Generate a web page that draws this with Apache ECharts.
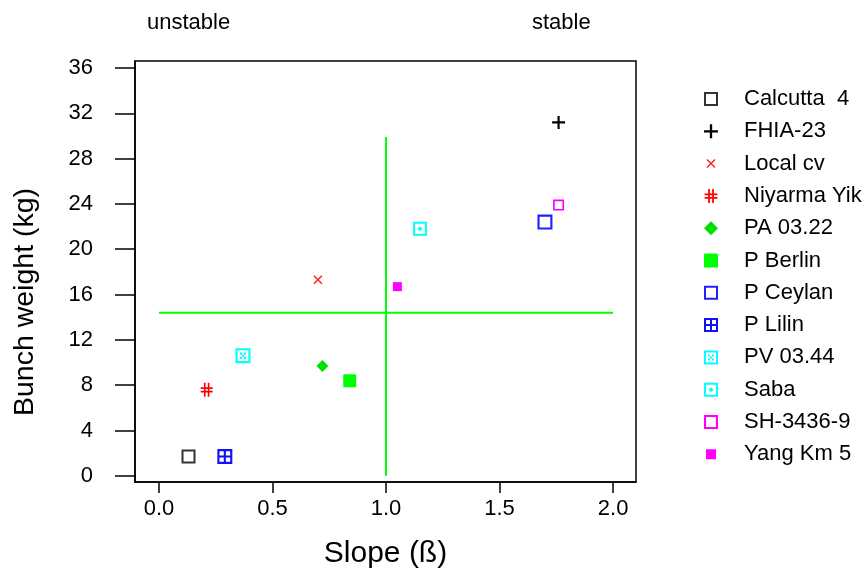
<!DOCTYPE html>
<html>
<head>
<meta charset="utf-8">
<script src="https://cdn.jsdelivr.net/npm/echarts@6/dist/echarts.min.js"></script>
<style>html,body{margin:0;padding:0;background:#fff}#c{width:868px;height:574px}</style>
</head>
<body>
<div id="c"></div>
<script>
// ---- data ----
const names = ['Calcutta  4','FHIA-23','Local cv','Niyarma Yik','PA 03.22','P Berlin','P Ceylan','P Lilin','PV 03.44','Saba','SH-3436-9','Yang Km 5'];
const slope  = [0.13, 1.76, 0.70, 0.21, 0.72, 0.84, 1.70, 0.29, 0.37, 1.15, 1.76, 1.05];
const weight = [1.7, 31.2, 17.3, 7.6, 9.7, 8.4, 22.4, 1.7, 10.6, 21.8, 23.9, 16.7];
const xTicks = [0, 0.5, 1.0, 1.5, 2.0];
const yTicks = [0, 4, 8, 12, 16, 20, 24, 28, 32, 36];
const hRefX = [0, 2];      // horizontal reference line span
const hRefY = 14.4;        // mean bunch weight
const vRefX = 1.0;         // slope = 1
const vRefY = [0, 29.9];   // vertical reference line span

// ---- styling ----
const FONT = 'Liberation Sans, Arial, sans-serif';
const ring = 'M0,0H14V14H0Z M2,2V12H12V2Z';
const styles = [
  {color:'#333333', symbol:'path://'+ring, size:14},
  {color:'#000000', symbol:'path://M5,0H7V5H12V7H7V12H5V7H0V5H5Z', size:13},
  {color:'#ff2020', symbol:'path://M0,1L1,0L4.5,3.5L8,0L9,1L5.5,4.5L9,8L8,9L4.5,5.5L1,9L0,8L3.5,4.5Z', size:9,
   legendIcon:'path://M-2.5,-2.5Z M11.5,11.5Z M0,1L1,0L4.5,3.5L8,0L9,1L5.5,4.5L9,8L8,9L4.5,5.5L1,9L0,8L3.5,4.5Z'},
  {color:'#ff0000', symbol:'path://M3,0H4.5V12H3Z M6.5,0H8V12H6.5Z M0,4H11V5.5H0Z M0,7H11V8.5H0Z', size:[12,14]},
  {color:'#00e000', symbol:'path://M5,0L10,5L5,10L0,5Z', size:12},
  {color:'#00ff00', symbol:'path://M1,0H9Q10,0 10,1V10H0V1Q0,0 1,0Z', size:13},
  {color:'#2020ff', symbol:'path://'+ring, size:15},
  {color:'#1010ff', symbol:'path://'+ring+' M6,2H8V12H6Z M2,6H12V8H2Z', size:15},
  {color:'#00ffff', symbol:'path://'+ring+' M4,4h2v2h-2z M8,4h2v2h-2z M6,6h2v2h-2z M4,8h2v2h-2z M8,8h2v2h-2z', size:15},
  {color:'#00ffff', symbol:'path://'+ring+' M7,4.5L9.5,7L7,9.5L4.5,7Z', size:14},
  {color:'#ff00ff', symbol:'path://M0,0H10V10H0Z M1.5,1.5V8.5H8.5V1.5Z', size:11},
  {color:'#ff00ff', symbol:'path://M0,0H10V10H0Z', size:9,
   legendIcon:'path://M-2,-2Z M12,12Z M0,0H10V10H0Z'}
];

const series = names.map((n, i) => ({
  name: n,
  type: 'scatter',
  symbol: styles[i].symbol,
  symbolSize: styles[i].size,
  itemStyle: {color: styles[i].color, opacity: 1, borderWidth: 0},
  emphasis: {disabled: true},
  data: [[slope[i], weight[i]]],
  z: 5
}));
series.push({
  type: 'line', name: '_h', silent: true, symbol: 'none',
  lineStyle: {color: '#00ff00', width: 2}, z: 3,
  data: hRefX.map(x => [x, hRefY])
});
series.push({
  type: 'line', name: '_v', silent: true, symbol: 'none',
  lineStyle: {color: '#00ff00', width: 2}, z: 3,
  data: vRefY.map(y => [vRefX, y])
});

const chart = echarts.init(document.getElementById('c'), null, {renderer: 'canvas'});
chart.setOption({
  animation: false,
  backgroundColor: '#ffffff',
  textStyle: {fontFamily: FONT, color: '#000'},
  grid: {left: 135, right: 232, top: 61, bottom: 92, show: true, borderColor: '#000', borderWidth: 1.5, containLabel: false},
  xAxis: {
    type: 'value', min: -0.1057, max: 2.101,
    name: 'Slope (ß)', nameLocation: 'middle', nameGap: 57,
    nameTextStyle: {fontSize: 30, color: '#000', fontFamily: FONT},
    axisLine: {show: true, onZero: false, lineStyle: {color: '#000', width: 1.5}},
    axisTick: {show: true, length: 11, customValues: xTicks, lineStyle: {color: '#000', width: 1.5}},
    axisLabel: {customValues: xTicks, margin: 16, fontSize: 22, color: '#000', fontFamily: FONT,
      formatter: v => v.toFixed(1)},
    splitLine: {show: false}
  },
  yAxis: {
    type: 'value', min: -0.55, max: 36.62,
    axisLine: {show: true, onZero: false, lineStyle: {color: '#000', width: 1.5}},
    axisTick: {show: true, length: 20, customValues: yTicks, lineStyle: {color: '#000', width: 1.5}},
    axisLabel: {customValues: yTicks, margin: 42, fontSize: 22, color: '#000', fontFamily: FONT,
      formatter: v => String(v)},
    splitLine: {show: false}
  },
  legend: {
    orient: 'vertical', left: 699, top: 83,
    itemWidth: 34, itemHeight: 14, itemGap: 10.3,
    symbolKeepAspect: true, selectedMode: false,
    textStyle: {fontSize: 22, color: '#000', fontFamily: FONT, padding: [0, 0, 0, 11]},
    data: names.map((n, i) => styles[i].legendIcon ? {name: n, icon: styles[i].legendIcon} : {name: n})
  },
  graphic: [
    {type: 'text', left: 147, top: 12, style: {text: 'unstable', fontSize: 22, fontFamily: FONT, fill: '#000'}},
    {type: 'text', left: 532, top: 12, style: {text: 'stable', fontSize: 22, fontFamily: FONT, fill: '#000'}},
    {type: 'text', x: 25, y: 302, rotation: Math.PI / 2,
     style: {text: 'Bunch weight (kg)', fontSize: 28.5, fontFamily: FONT, fill: '#000', align: 'center', verticalAlign: 'middle'}}
  ],
  series: series
});
</script>
</body>
</html>
